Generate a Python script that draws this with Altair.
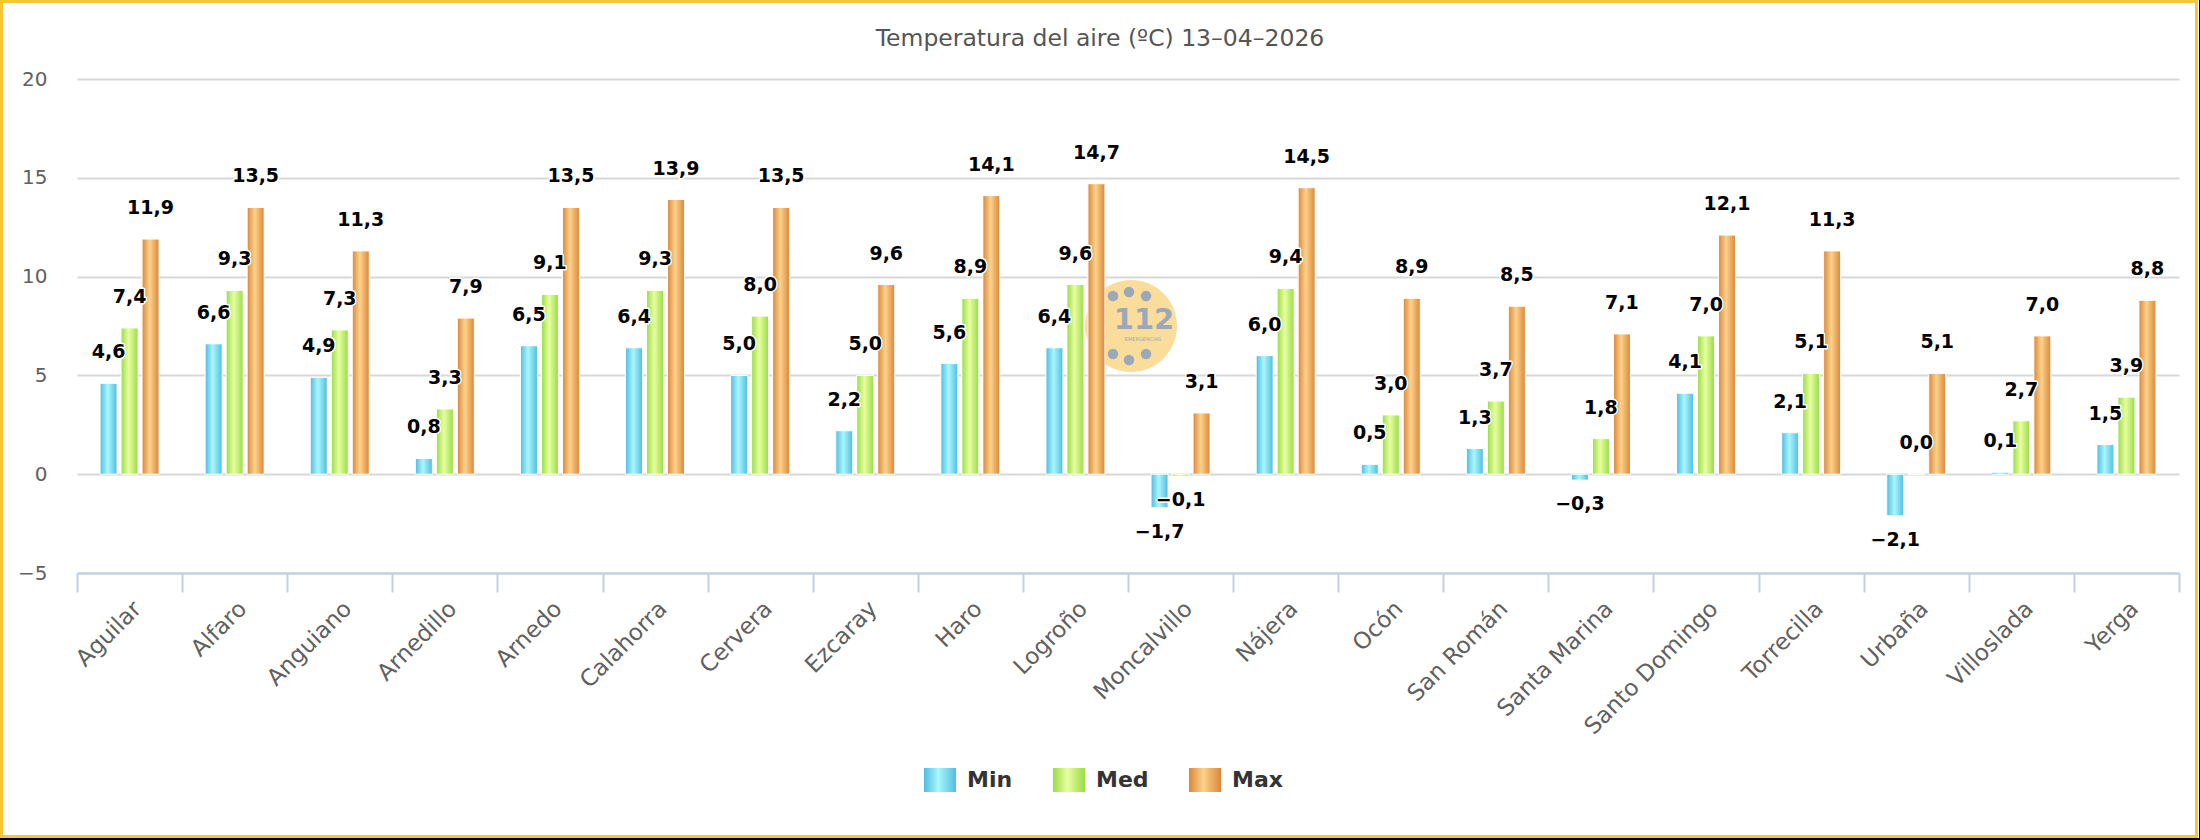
import altair as alt
import pandas as pd

# Estaciones y temperaturas (ºC)
estaciones = ["Aguilar", "Alfaro", "Anguiano", "Arnedillo", "Arnedo", "Calahorra",
              "Cervera", "Ezcaray", "Haro", "Logroño", "Moncalvillo", "Nájera",
              "Ocón", "San Román", "Santa Marina", "Santo Domingo", "Torrecilla",
              "Urbaña", "Villoslada", "Yerga"]
t_min = [4.6, 6.6, 4.9, 0.8, 6.5, 6.4, 5.0, 2.2, 5.6, 6.4, -1.7, 6.0, 0.5, 1.3, -0.3,
         4.1, 2.1, -2.1, 0.1, 1.5]
t_med = [7.4, 9.3, 7.3, 3.3, 9.1, 9.3, 8.0, 5.0, 8.9, 9.6, -0.1, 9.4, 3.0, 3.7, 1.8,
         7.0, 5.1, 0.0, 2.7, 3.9]
t_max = [11.9, 13.5, 11.3, 7.9, 13.5, 13.9, 13.5, 9.6, 14.1, 14.7, 3.1, 14.5, 8.9, 8.5,
         7.1, 12.1, 11.3, 5.1, 7.0, 8.8]
series = ["Min", "Med", "Max"]
y_ticks = [-5, 0, 5, 10, 15, 20]
titulo = "Temperatura del aire (ºC) 13–04–2026"


def etiqueta(v):
    return f"{v:.1f}".replace(".", ",").replace("-", "\u2212")


registros = []
for serie, valores in zip(series, [t_min, t_med, t_max]):
    for est, v in zip(estaciones, valores):
        registros.append({"estacion": est, "serie": serie, "valor": v,
                          "etiqueta": etiqueta(v)})
datos = pd.DataFrame(registros)

FONT = "DejaVu Sans"
W, H = 2102, 494
PAD = {"left": 77, "top": 79, "right": 21, "bottom": 267}
BAND = W / len(estaciones)
BAR_STEP, BAR_W = 21, 17
inner = (BAR_STEP - BAR_W) / BAR_STEP
span = BAR_STEP * (3 - inner)
off0 = BAND / 2 - span / 2


def degradado(borde, centro):
    return {"expr": ("{gradient: 'linear', x1: 0, y1: 0, x2: 1, y2: 0, stops: ["
                     "{offset: 0, color: '%s'}, {offset: 0.45, color: '%s'}, "
                     "{offset: 1, color: '%s'}]}") % (borde, centro, borde)}


colores = [degradado("#4FBDE1", "#AAF6FC"),
           degradado("#97DD46", "#E8FEA0"),
           degradado("#DB8739", "#FCD28B")]

x_enc = alt.X("estacion:N", sort=estaciones,
              scale=alt.Scale(domain=estaciones, paddingInner=0, paddingOuter=0),
              axis=alt.Axis(title=None, labelAngle=-45, labelFont=FONT, labelFontSize=23,
                            labelColor="#606060", labelPadding=5,
                            domainColor="#C0D0E0", domainWidth=2,
                            tickColor="#C0D0E0", tickWidth=2, tickSize=19,
                            tickBand="extent", grid=False))
y_enc = alt.Y("valor:Q", scale=alt.Scale(domain=[-5, 20], nice=False, zero=False),
              axis=alt.Axis(title=None, values=y_ticks, domain=False, ticks=False,
                            grid=True, gridColor="#D8D8D8", gridWidth=2,
                            labelFont=FONT, labelFontSize=20, labelColor="#606060",
                            labelPadding=30))
off_enc = alt.XOffset("serie:N", sort=series,
                      scale=alt.Scale(domain=series, range=[off0, off0 + span],
                                      paddingInner=inner, paddingOuter=0))

base = alt.Chart(datos)

barras = base.mark_bar(stroke="white", strokeWidth=1).encode(
    x=x_enc, y=y_enc, xOffset=off_enc,
    color=alt.Color("serie:N", sort=series,
                    scale=alt.Scale(domain=series, range=colores),
                    legend=alt.Legend(orient="none", legendX=847, legendY=685,
                                      direction="horizontal", title=None,
                                      symbolType="M-1,-0.75H1V0.75H-1Z",
                                      symbolSize=1024, symbolStrokeWidth=0,
                                      symbolOpacity=1,
                                      labelFont=FONT, labelFontSize=22,
                                      labelFontWeight="bold", labelColor="#333333",
                                      labelOffset=11, columnPadding=40, padding=0)),
)


def rotulos(filtro, dy, halo):
    props = dict(font=FONT, fontSize=19, fontWeight="bold", baseline="middle",
                 align="center", dy=dy)
    if halo:
        props.update(color="white", stroke="white", strokeWidth=3, strokeJoin="round")
    else:
        props.update(color="black")
    return base.transform_filter(filtro).mark_text(**props).encode(
        x=alt.X("estacion:N", sort=estaciones), y="valor:Q",
        xOffset=alt.XOffset("serie:N", sort=series), text="etiqueta:N")


pos = alt.datum.valor >= 0
neg = alt.datum.valor < 0
textos = [rotulos(pos, -31, True), rotulos(neg, 24, True),
          rotulos(pos, -31, False), rotulos(neg, 24, False)]

uno = alt.Data(values=[{}])

# Logotipo de fondo (112)
logo = [alt.Chart(uno).mark_point(filled=True, shape="circle", size=8464,
                                  color="#FAD78A", opacity=0.85).encode(
    x=alt.value(1054), y=alt.value(247))]
for px, py in [(1036, 217), (1052, 213), (1069, 217), (1036, 275), (1052, 281), (1069, 275)]:
    logo.append(alt.Chart(uno).mark_point(filled=True, shape="circle", size=110,
                                          color="#9AA9BA", opacity=1).encode(
        x=alt.value(px), y=alt.value(py)))
logo.append(alt.Chart(uno).mark_text(text="112", font=FONT, fontWeight="bold",
                                     fontSize=29, color="#9AA9BA",
                                     baseline="middle").encode(
    x=alt.value(1067), y=alt.value(241)))
logo.append(alt.Chart(uno).mark_text(text="EMERGENCIAS", font=FONT, fontSize=5,
                                     color="#9AA9BA", baseline="middle").encode(
    x=alt.value(1066), y=alt.value(260)))

# Marco exterior
marco = [
    alt.Chart(uno).mark_rect(fillOpacity=0, stroke="#F8C533", strokeWidth=3).encode(
        x=alt.value(-75.5), x2=alt.value(2119.5), y=alt.value(-77.5), y2=alt.value(757.5)),
    alt.Chart(uno).mark_rule(color="black", strokeWidth=2).encode(
        x=alt.value(-77), x2=alt.value(2123), y=alt.value(760)),
    alt.Chart(uno).mark_rule(color="black", strokeWidth=1).encode(
        x=alt.value(2122.5), y=alt.value(-79), y2=alt.value(761)),
]

chart = alt.layer(*marco, *logo, barras, *textos).properties(
    width=W, height=H, padding=PAD,
    autosize=alt.AutoSizeParams(type="none"),
    background="white",
    title=alt.TitleParams(titulo, font=FONT, fontSize=23.5, fontWeight="normal",
                          color="#555555", anchor="middle", frame="group", dx=-28,
                          baseline="middle", offset=-63),
).configure_view(stroke=None)

chart.save("out.html", embed_options={"renderer": "svg", "actions": False})
